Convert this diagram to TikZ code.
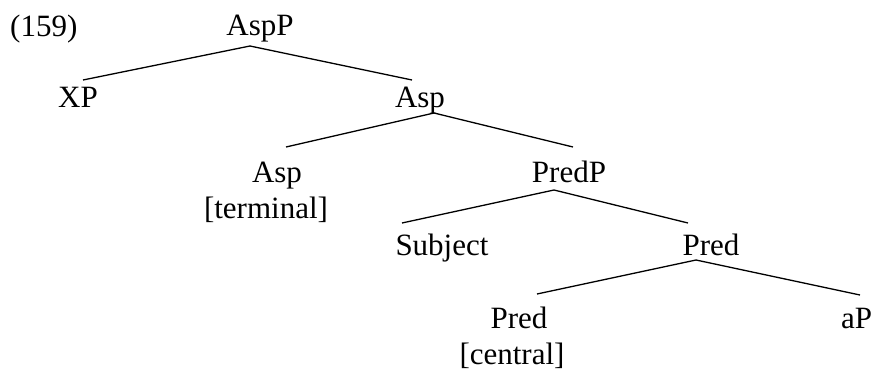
\documentclass[tikz,border=0pt]{standalone}
\usepackage{fontspec}
\setmainfont{Liberation Serif}
\begin{document}
\begin{tikzpicture}[x=1pt,y=-1pt,
  lab/.style={inner sep=0pt,anchor=base,font=\fontsize{31}{36}\selectfont},
  edge/.style={line width=1.3pt}]
\useasboundingbox (0,0) rectangle (872,372);
\node[lab,anchor=base west] (num) at (10,36) {(159)};
\node[lab] (aspP) at (260,35) {AspP};
\node[lab] (xp) at (78,107) {XP};
\node[lab] (asp) at (420,107) {Asp};
\node[lab] (asp2) at (277,182) {Asp};
\node[lab] (asp2f) at (266,218) {[terminal]};
\node[lab] (predP) at (569,182) {PredP};
\node[lab] (subj) at (442,255) {Subject};
\node[lab] (pred) at (711,255) {Pred};
\node[lab] (pred2) at (519,328) {Pred};
\node[lab] (pred2f) at (512,364) {[central]};
\node[lab,anchor=base west] (ap) at (841,328) {aP};
\draw[edge] ([shift={(5,-27)}]xp.base) -- ([shift={(-10,11)}]aspP.base) -- ([shift={(-8,-27)}]asp.base);
\draw[edge] ([shift={(9,-35)}]asp2.base) -- ([shift={(14,6)}]asp.base) -- ([shift={(4,-35)}]predP.base);
\draw[edge] ([shift={(-40,-32)}]subj.base) -- ([shift={(-15,8)}]predP.base) -- ([shift={(-23,-32)}]pred.base);
\draw[edge] ([shift={(18,-34)}]pred2.base) -- ([shift={(-15,5)}]pred.base) -- ([shift={(19,-33)}]ap.base west);
\end{tikzpicture}
\end{document}
